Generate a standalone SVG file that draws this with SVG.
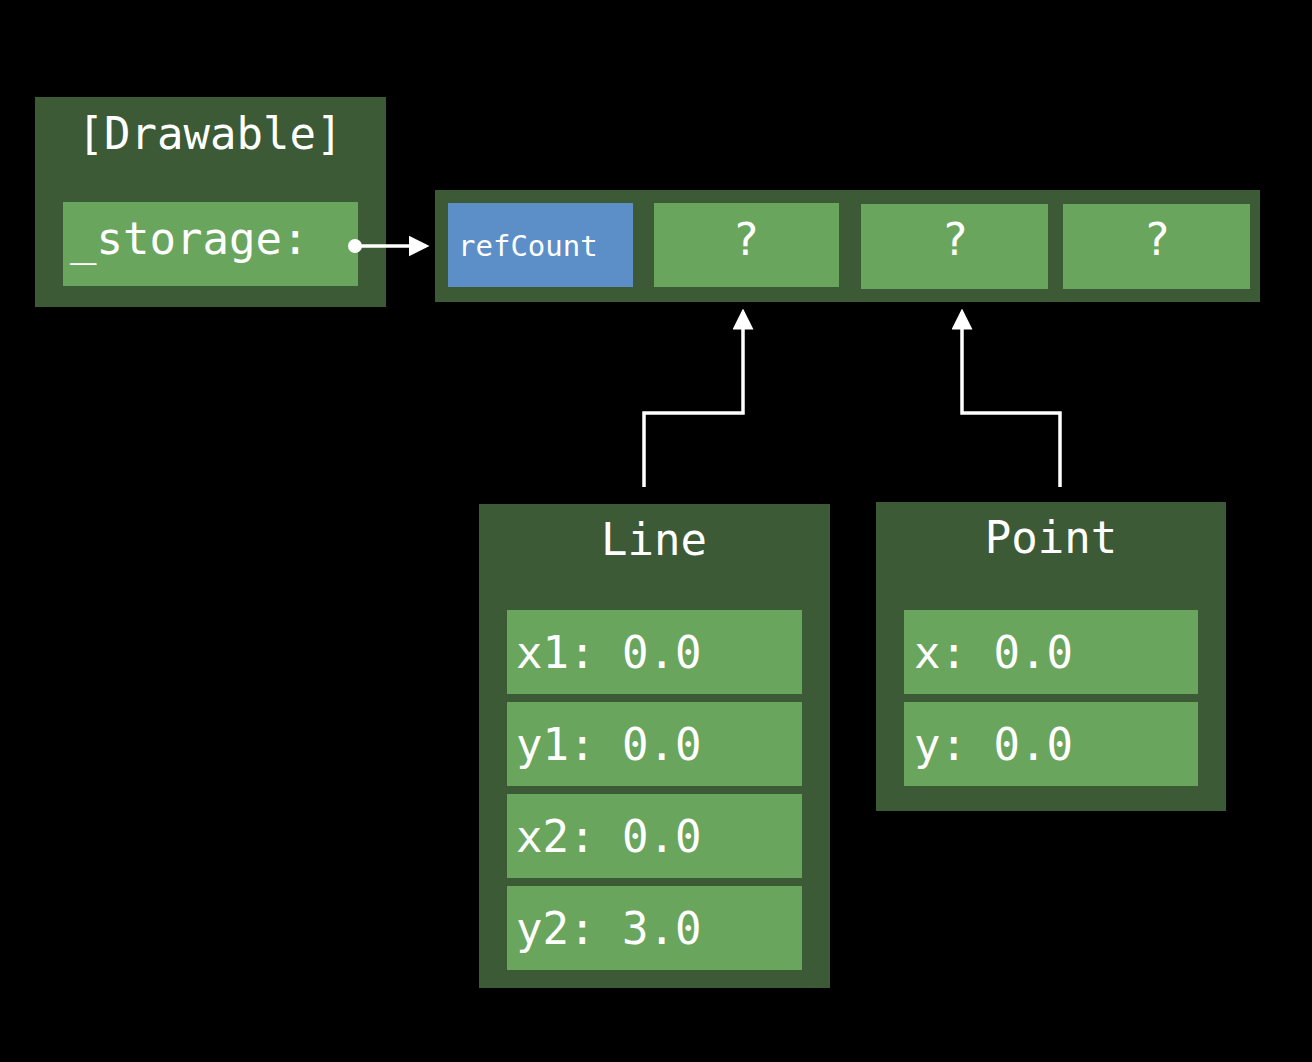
<svg xmlns="http://www.w3.org/2000/svg" width="1312" height="1062" viewBox="0 0 1312 1062">
<style>
.outer{fill:#3c5a35}
.field{fill:#6aa55e}
.rc{fill:#5c8fc7}
text{font-family:"DejaVu Sans Mono","Liberation Mono",monospace;fill:#ffffff}
.big{font-size:44px}
.small{font-size:29px}
.mid{text-anchor:middle}
.conn{fill:none;stroke:#ffffff;stroke-width:3.5}
</style>
<defs>
<marker id="arr" markerWidth="6" markerHeight="6" refX="5" refY="3" orient="auto" markerUnits="strokeWidth" viewBox="0 0 6 6">
<path d="M0,0 L6,3 L0,6 Z" fill="#ffffff"/>
</marker>
</defs>
<rect width="1312" height="1062" fill="#000000"/>
<g id="drawable">
<rect class="outer" x="35" y="97" width="351" height="210"/>
<text class="big mid" x="210" y="149">[Drawable]</text>
<rect class="field" x="63" y="202" width="295" height="84"/>
<text class="big" x="70" y="254">_storage:</text>
</g>
<g id="storage">
<rect class="outer" x="435" y="190" width="825" height="112"/>
<rect class="rc" x="448" y="203" width="185" height="84"/>
<text class="small" x="458" y="256">refCount</text>
<rect class="field" x="654" y="203" width="185" height="84"/>
<text class="big mid" x="746" y="255">?</text>
<rect class="field" x="861" y="204" width="187" height="85"/>
<text class="big mid" x="955" y="255">?</text>
<rect class="field" x="1063" y="204" width="187" height="85"/>
<text class="big mid" x="1157" y="255">?</text>
</g>
<g id="line">
<rect class="outer" x="479" y="504" width="351" height="484"/>
<text class="big mid" x="654" y="555">Line</text>
<rect class="field" x="507" y="610" width="295" height="84"/>
<text class="big" x="516" y="668">x1: 0.0</text>
<rect class="field" x="507" y="702" width="295" height="84"/>
<text class="big" x="516" y="760">y1: 0.0</text>
<rect class="field" x="507" y="794" width="295" height="84"/>
<text class="big" x="516" y="852">x2: 0.0</text>
<rect class="field" x="507" y="886" width="295" height="84"/>
<text class="big" x="516" y="944">y2: 3.0</text>
</g>
<g id="point">
<rect class="outer" x="876" y="502" width="350" height="309"/>
<text class="big mid" x="1051" y="553">Point</text>
<rect class="field" x="904" y="610" width="294" height="84"/>
<text class="big" x="914" y="668">x: 0.0</text>
<rect class="field" x="904" y="702" width="294" height="84"/>
<text class="big" x="914" y="760">y: 0.0</text>
</g>
<g id="connectors">
<circle cx="355" cy="246" r="7" fill="#ffffff"/>
<path class="conn" d="M355,246 L426,246" marker-end="url(#arr)"/>
<path class="conn" d="M644,487 L644,413 L743,413 L743,312" marker-end="url(#arr)"/>
<path class="conn" d="M1060,487 L1060,413 L962,413 L962,312" marker-end="url(#arr)"/>
</g>
</svg>
